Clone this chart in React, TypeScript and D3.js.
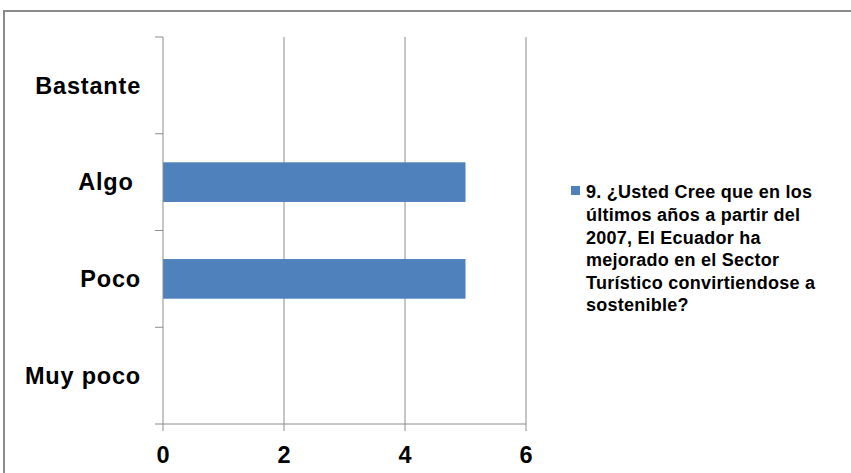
import React from "react";
import * as d3 from "d3";

const categories = ["Bastante", "Algo ", "Poco", "Muy poco"];
const values = [0, 5, 5, 0];
const xTicks = [0, 2, 4, 6];
const legendLines = [
  "9. ¿Usted Cree que en los",
  "últimos años a partir del",
  "2007, El Ecuador ha",
  "mejorado en el Sector",
  "Turístico convirtiendose a",
  "sostenible?",
];

export default function App() {
  const W = 851, H = 473;
  const x = d3.scaleLinear().domain([0, 6]).range([163, 526]);
  const y = d3.scaleBand().domain(categories).range([37, 424]).paddingInner(0.59).paddingOuter(0.295);
  const yb = d3.scaleBand().domain(categories).range([37, 424]);
  const font = "'Liberation Sans', Arial, sans-serif";
  return (
    <svg width={W} height={H} style={{ position: "absolute", left: 0, top: 0 }}>
      <rect x={0} y={0} width={W} height={H} fill="#fff" />
      <rect x={4} y={11} width={W + 20} height={H + 20} fill="none" stroke="#8a8a8a" strokeWidth={2} />
      {xTicks.slice(1).map((t) => (
        <line key={t} x1={x(t)} x2={x(t)} y1={37} y2={431} stroke="#8c8c8c" strokeWidth={1} />
      ))}
      {categories.map((c, i) => (
        <rect key={c} x={x(0)} y={y(c)!} width={x(values[i]) - x(0)} height={y.bandwidth()} fill="#4F81BD" />
      ))}
      <line x1={x(0)} x2={x(0)} y1={37} y2={431} stroke="#8c8c8c" strokeWidth={1} />
      <line x1={155} x2={x(6)} y1={424} y2={424} stroke="#8c8c8c" strokeWidth={1} />
      {categories.map((c) => (
        <line key={c} x1={155} x2={x(0)} y1={yb(c)!} y2={yb(c)!} stroke="#8c8c8c" strokeWidth={1} />
      ))}
      {categories.map((c) => (
        <text key={c} x={141} y={yb(c)! + yb.bandwidth() / 2} dy="0.35em" textAnchor="end"
          fontFamily={font} fontWeight="bold" fontSize={23.5} letterSpacing={0.8} fill="#000" style={{ whiteSpace: "pre" }}>
          {c}
        </text>
      ))}
      {xTicks.map((t) => (
        <text key={t} x={x(t)} y={455} dy="0.35em" textAnchor="middle" fontFamily={font}
          fontWeight="bold" fontSize={23.5} fill="#000">{t}</text>
      ))}
      <rect x={571} y={186} width={9} height={9} fill="#4F81BD" />
      {legendLines.map((l, i) => (
        <text key={i} x={586} y={192 + i * 22.6} dy="0.35em" fontFamily={font} fontWeight="bold"
          fontSize={18} letterSpacing={0.25} fill="#000">{l}</text>
      ))}
    </svg>
  );
}
